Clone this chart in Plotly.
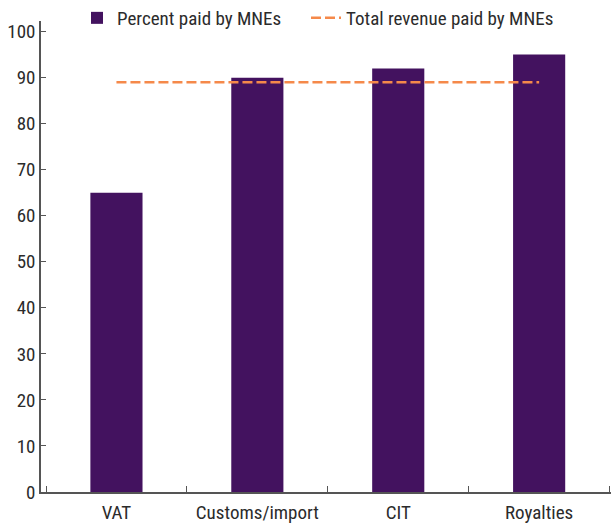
import plotly.graph_objects as go

categories = ["VAT", "Customs/import", "CIT", "Royalties"]
percent_paid = [65, 90, 92, 95]
total_revenue = [89, 89, 89, 89]
y_ticks = [0, 10, 20, 30, 40, 50, 60, 70, 80, 90, 100]

FONT = "Liberation Sans Narrow, Arial Narrow, Roboto Condensed, sans-serif"
TXT = "#2b2b2b"
PURPLE = "#43125F"
ORANGE = "#F5894A"

fig = go.Figure()
fig.add_trace(go.Bar(
    x=categories, y=percent_paid, name="Percent paid by MNEs",
    marker=dict(color=PURPLE, line=dict(width=0)), width=0.37,
    legend="legend",
))
fig.add_trace(go.Scatter(
    x=categories, y=total_revenue, name="Total revenue paid by MNEs",
    mode="lines", line=dict(color=ORANGE, width=2.5, dash="10px,4px"),
    legend="legend2",
))

legend_common = dict(
    orientation="h",
    xref="container", xanchor="left",
    yref="container", y=1 - 18 / 523, yanchor="middle",
    font=dict(family=FONT, size=19, color=TXT),
    bgcolor="rgba(0,0,0,0)",
)

fig.update_layout(
    width=611, height=523,
    margin=dict(l=41, r=0, t=21, b=31, pad=0, autoexpand=False),
    paper_bgcolor="white", plot_bgcolor="white",
    font=dict(family=FONT, size=19, color=TXT),
    showlegend=True,
    legend=dict(x=77 / 611, **legend_common),
    legend2=dict(x=306 / 611, **legend_common),
)
fig.update_xaxes(
    type="category", range=[-0.5355, 3.51],
    showline=True, linecolor="#555555", linewidth=1.5,
    ticks="inside", tickson="boundaries", ticklen=6, tickcolor="#555555",
    showgrid=False, zeroline=False, ticklabelstandoff=2,
    tickfont=dict(family=FONT, size=19, color=TXT),
)
fig.update_yaxes(
    range=[0, 102.3], tickvals=y_ticks,
    showline=True, linecolor="#555555", linewidth=1.5,
    ticks="inside", ticklen=5, tickcolor="#555555",
    showgrid=False, zeroline=False,
    tickfont=dict(family=FONT, size=19, color=TXT),
)

fig.write_html(
    "out.html",
    config={"displayModeBar": False},
    post_script="document.body.style.margin='0';document.body.style.overflow='hidden';",
)
